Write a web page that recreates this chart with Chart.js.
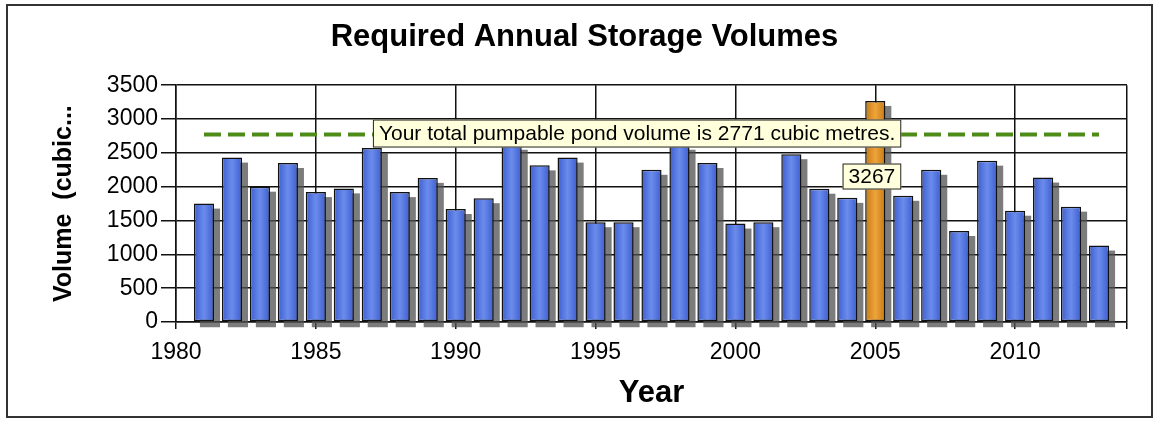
<!DOCTYPE html>
<html>
<head>
<meta charset="utf-8">
<script src="https://cdn.jsdelivr.net/npm/chart.js@4.4.1/dist/chart.umd.min.js"></script>
<style>
    html, body { margin: 0; padding: 0; background: #fff; }
    #wrap { width: 1157px; height: 425px; }
</style>
</head>
<body>
<div id="wrap"><canvas id="chart"></canvas></div>
<script>
// Data
const years = [1981, 1982, 1983, 1984, 1985, 1986, 1987, 1988, 1989, 1990,
               1991, 1992, 1993, 1994, 1995, 1996, 1997, 1998, 1999, 2000,
               2001, 2002, 2003, 2004, 2005, 2006, 2007, 2008, 2009, 2010,
               2011, 2012, 2013];
const volumes = [1750, 2430, 2000, 2350, 1920, 1975, 2570, 1920, 2130, 1670,
                 1830, 2620, 2315, 2430, 1475, 1475, 2250, 2620, 2350, 1455,
                 1475, 2480, 1970, 1835, 3267, 1865, 2250, 1345, 2385, 1645,
                 2135, 1705, 1130];
const pondVolume = 2771;
const lineYears = [1981, 2013];
const xTicks = [1980, 1985, 1990, 1995, 2000, 2005, 2010];
const yTicks = [0, 500, 1000, 1500, 2000, 2500, 3000, 3500];

const peakIndex = volumes.indexOf(Math.max(...volumes));

Chart.defaults.font.family = '"Liberation Sans", Arial, sans-serif';
Chart.defaults.color = '#000';

// bar fill: vertical stripe gradient like the Excel bars
function barFill(context) {
    const chart = context.chart;
    if (!chart.chartArea || context.raw === undefined) return '#5576dc';
    const px = chart.scales.x.getPixelForValue(context.raw.x);
    const g = chart.ctx.createLinearGradient(px - 10, 0, px + 10, 0);
    if (context.dataIndex === peakIndex) {
        g.addColorStop(0, '#c77a12');
        g.addColorStop(0.5, '#eda43a');
        g.addColorStop(1, '#c77a12');
    } else {
        g.addColorStop(0, '#3d5ecf');
        g.addColorStop(0.5, '#6b8cec');
        g.addColorStop(1, '#3d5ecf');
    }
    return g;
}

// white background and outer frame
const framePlugin = {
    id: 'frame',
    beforeDraw(chart) {
        const ctx = chart.ctx;
        ctx.save();
        ctx.fillStyle = '#fff';
        ctx.fillRect(0, 0, chart.width, chart.height);
        ctx.restore();
    },
    afterDraw(chart) {
        const ctx = chart.ctx;
        ctx.save();
        ctx.strokeStyle = '#333';
        ctx.lineWidth = 2;
        ctx.strokeRect(7, 5, 1145, 412);
        ctx.restore();
    }
};

// drop shadow behind the bars (bars clip their own canvas shadow, so paint it)
const shadowPlugin = {
    id: 'barShadow',
    beforeDatasetDraw(chart, args) {
        if (args.meta.type !== 'bar') return;
        const ctx = chart.ctx;
        ctx.save();
        ctx.fillStyle = 'rgba(80,80,80,0.75)';
        args.meta.data.forEach(el => {
            const p = el.getProps(['x', 'y', 'base', 'width'], true);
            ctx.fillRect(p.x - p.width / 2 + 6, p.y + 5, p.width, p.base - p.y + 1);
        });
        ctx.restore();
    }
};

function labelBox(ctx, text, right, top, height) {
    const w = ctx.measureText(text).width + 12;
    ctx.fillStyle = '#ffffdc';
    ctx.fillRect(right - w, top, w, height);
    ctx.strokeStyle = '#222';
    ctx.lineWidth = 1;
    ctx.strokeRect(right - w + 0.5, top + 0.5, w - 1, height - 1);
    ctx.fillStyle = '#000';
    ctx.textAlign = 'right';
    ctx.textBaseline = 'middle';
    ctx.fillText(text, right - 6, top + height / 2 + 1);
}

// the two data labels
const labelPlugin = {
    id: 'labels',
    afterDatasetsDraw(chart) {
        const ctx = chart.ctx;
        const x = chart.scales.x, y = chart.scales.y;
        const right = x.getPixelForValue(years[peakIndex]) + 26;
        const top = y.getPixelForValue(pondVolume) - 15;
        ctx.save();
        ctx.font = '21px "Liberation Sans", Arial, sans-serif';
        labelBox(ctx, 'Your total pumpable pond volume is ' + pondVolume + ' cubic metres.', right, top, 28);
        labelBox(ctx, String(volumes[peakIndex]), right, top + 44, 26);
        ctx.restore();
    }
};

const ctx = document.getElementById('chart').getContext('2d');
new Chart(ctx, {
    type: 'bar',
    data: {
        datasets: [{
            type: 'line',
            order: 0,
            data: lineYears.map(yr => ({ x: yr, y: pondVolume })),
            borderColor: '#4e8c18',
            borderWidth: 4,
            borderDash: [17, 7],
            pointRadius: 0,
            fill: false
        }, {
            order: 1,
            data: years.map((yr, i) => ({ x: yr, y: volumes[i] })),
            backgroundColor: barFill,
            borderColor: '#111',
            borderWidth: 1.5,
            borderSkipped: false,
            barPercentage: 0.72,
            categoryPercentage: 1,
            clip: 8
        }]
    },
    options: {
        responsive: true,
        maintainAspectRatio: false,
        animation: false,
        layout: { padding: { left: 42, right: 30, top: 0, bottom: 12 } },
        plugins: {
            legend: { display: false },
            tooltip: { enabled: false },
            title: {
                display: true,
                text: 'Required Annual Storage Volumes',
                font: { size: 31, weight: 'bold' },
                color: '#000',
                padding: { top: 19, bottom: 29 }
            }
        },
        scales: {
            x: {
                type: 'linear',
                offset: false,
                min: 1980,
                max: 2014,
                afterBuildTicks: s => { s.ticks = xTicks.concat([2014]).map(v => ({ value: v })); },
                afterFit: s => { s.height = 91; },
                grid: { color: '#111', lineWidth: 1.5, tickLength: 7, offset: false },
                border: { color: '#111', width: 1.5 },
                ticks: {
                    autoSkip: false,
                    maxRotation: 0,
                    padding: 10,
                    font: { size: 23 },
                    callback: v => xTicks.includes(v) ? String(v) : ''
                },
                title: {
                    display: true,
                    text: 'Year',
                    font: { size: 31, weight: 'bold' },
                    padding: { top: 0, bottom: 1 }
                }
            },
            y: {
                min: 0,
                max: 3500,
                afterBuildTicks: s => { s.ticks = yTicks.map(v => ({ value: v })); },
                afterFit: s => { s.width = 134; },
                grid: { color: '#111', lineWidth: 1.5, tickLength: 15 },
                border: { color: '#111', width: 1.5 },
                ticks: { padding: 3, font: { size: 23 }, callback: v => String(v) },
                title: {
                    display: true,
                    text: 'Volume  (cubic...',
                    font: { size: 25, weight: 'bold' },
                    padding: { top: 7, bottom: 0 }
                }
            }
        }
    },
    plugins: [framePlugin, shadowPlugin, labelPlugin]
});
</script>
</body>
</html>
